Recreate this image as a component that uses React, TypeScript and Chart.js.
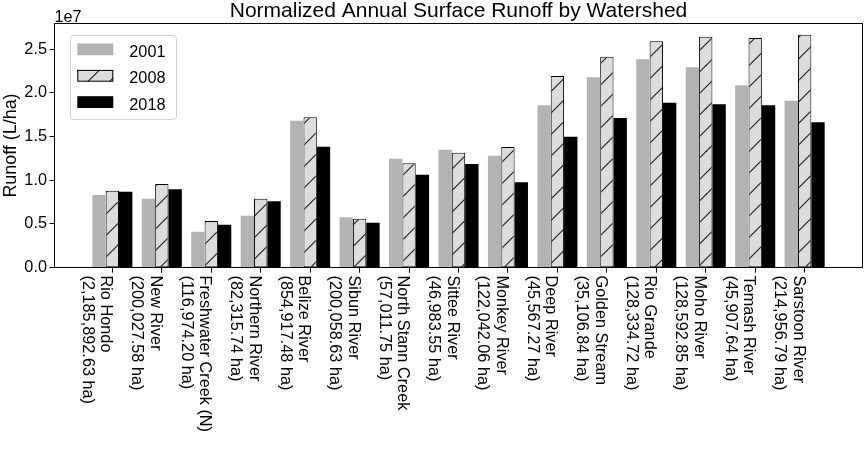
import React, { useEffect, useRef } from "react";
import { Chart, registerables } from "chart.js";

Chart.register(...registerables);

const FONT = '"Liberation Sans", Arial, Helvetica, sans-serif';

const watersheds = [
  "Rio Hondo",
  "New River",
  "Freshwater Creek (N)",
  "Northern River",
  "Belize River",
  "Sibun River",
  "North Stann Creek",
  "Sittee River",
  "Monkey River",
  "Deep River",
  "Golden Stream",
  "Rio Grande",
  "Moho River",
  "Temash River",
  "Sarstoon River",
];
const areas = [
  "(2,185,892.63 ha)",
  "(200,027.58 ha)",
  "(116,974.20 ha)",
  "(82,315.74 ha)",
  "(854,917.48 ha)",
  "(200,058.63 ha)",
  "(57,011.75 ha)",
  "(46,983.55 ha)",
  "(122,042.06 ha)",
  "(45,567.27 ha)",
  "(35,106.84 ha)",
  "(128,334.72 ha)",
  "(128,592.85 ha)",
  "(45,907.64 ha)",
  "(214,956.79 ha)",
];
const runoff2001 = [8.31e6, 7.89e6, 4.12e6, 5.94e6, 1.68e7, 5.76e6, 1.246e7, 1.349e7, 1.28e7, 1.856e7, 2.176e7, 2.382e7, 2.291e7, 2.085e7, 1.909e7];
const runoff2008 = [8.8e6, 9.57e6, 5.34e6, 7.89e6, 1.719e7, 5.6e6, 1.193e7, 1.315e7, 1.38e7, 2.191e7, 2.412e7, 2.588e7, 2.641e7, 2.626e7, 2.663e7];
const runoff2018 = [8.69e6, 8.96e6, 4.92e6, 7.59e6, 1.383e7, 5.14e6, 1.063e7, 1.185e7, 9.76e6, 1.497e7, 1.711e7, 1.886e7, 1.868e7, 1.856e7, 1.662e7];
const seriesLabels = ["2001", "2008", "2018"];
const yTicks = [0, 5e6, 1e7, 1.5e7, 2e7, 2.5e7];
const yTickLabels = ["0.0", "0.5", "1.0", "1.5", "2.0", "2.5"];
const titleText = "Normalized Annual Surface Runoff by Watershed";
const yTitle = "Runoff (L/ha)";
const offsetText = "1e7";

function makeHatch(): CanvasPattern | string {
  const size = 43;
  const c = document.createElement("canvas");
  c.width = size;
  c.height = size;
  const g = c.getContext("2d");
  if (!g) return "#dcdcdc";
  g.fillStyle = "#dcdcdc";
  g.fillRect(0, 0, size, size);
  g.strokeStyle = "#1a1a1a";
  g.lineWidth = 1.1;
  for (let k = 0; k <= 4; k++) {
    const cc = k * 21.5;
    g.beginPath();
    g.moveTo(cc + 3, -3);
    g.lineTo(-3, cc + 3);
    g.stroke();
  }
  const p = g.createPattern(c, "repeat");
  if (!p) return "#dcdcdc";
  try {
    p.setTransform(new DOMMatrix().translateSelf(19, 0));
  } catch (e) {}
  return p;
}

export default function App() {
  const ref = useRef<HTMLCanvasElement | null>(null);

  useEffect(() => {
    if (!ref.current) return;
    const hatch = makeHatch();
    const colors = ["#b3b3b3", hatch, "#000000"];

    const decor = {
      id: "decor",
      afterDraw(chart: any) {
        const ctx = chart.ctx as CanvasRenderingContext2D;
        const a = chart.chartArea;
        const xs = chart.scales.x;
        ctx.save();
        // frame
        ctx.strokeStyle = "#000";
        ctx.lineWidth = 1;
        const l = Math.floor(a.left) + 0.5;
        const t = Math.floor(a.top) + 0.5;
        const r = Math.floor(a.right) + 0.5;
        const b = Math.floor(a.bottom) + 0.5;
        ctx.strokeRect(l, t, r - l, b - t);

        // title
        ctx.fillStyle = "#000";
        ctx.font = `21px ${FONT}`;
        ctx.textAlign = "center";
        ctx.textBaseline = "alphabetic";
        ctx.fillText(titleText, (a.left + a.right) / 2, 17.3);

        // offset text
        ctx.font = `16.3px ${FONT}`;
        ctx.textAlign = "left";
        ctx.fillText(offsetText, a.left, 21.5);

        // x labels rotated clockwise
        ctx.font = `16.3px ${FONT}`;
        watersheds.forEach((name, i) => {
          const px = xs.getPixelForValue(i);
          ctx.save();
          ctx.translate(px, 275.5);
          ctx.rotate(Math.PI / 2);
          ctx.textAlign = "left";
          ctx.textBaseline = "alphabetic";
          ctx.fillText(name, 0, 10.9);
          ctx.fillText(areas[i], 0, 29.5);
          ctx.restore();
        });

        // legend
        const bx = 70.5, by = 35.5, bw = 106, bh = 84, rad = 3;
        ctx.beginPath();
        ctx.moveTo(bx + rad, by);
        ctx.lineTo(bx + bw - rad, by);
        ctx.arcTo(bx + bw, by, bx + bw, by + rad, rad);
        ctx.lineTo(bx + bw, by + bh - rad);
        ctx.arcTo(bx + bw, by + bh, bx + bw - rad, by + bh, rad);
        ctx.lineTo(bx + rad, by + bh);
        ctx.arcTo(bx, by + bh, bx, by + bh - rad, rad);
        ctx.lineTo(bx, by + rad);
        ctx.arcTo(bx, by, bx + rad, by, rad);
        ctx.closePath();
        ctx.fillStyle = "rgba(255,255,255,0.85)";
        ctx.fill();
        ctx.strokeStyle = "#d0d0d0";
        ctx.stroke();

        const baselines = [56.7, 83.2, 109.5];
        seriesLabels.forEach((lab, i) => {
          const yb = baselines[i];
          const py = yb - 13.3;
          ctx.fillStyle = colors[i] as any;
          ctx.fillRect(77.3, py, 36, 11.8);
          if (i === 1) {
            ctx.strokeStyle = "#000";
            ctx.lineWidth = 1;
            ctx.strokeRect(77.8, py + 0.5, 35, 10.8);
          }
          ctx.fillStyle = "#000";
          ctx.font = `16.3px ${FONT}`;
          ctx.textAlign = "left";
          ctx.textBaseline = "alphabetic";
          ctx.fillText(lab, 129.3, yb);
        });
        ctx.restore();
      },
    };

    const mk = (vals: number[]) => vals.map((v, i) => ({ x: i, y: v }));

    const chart = new Chart(ref.current, {
      type: "bar",
      data: {
        datasets: [
          {
            label: seriesLabels[0],
            data: mk(runoff2001),
            backgroundColor: colors[0] as any,
            borderWidth: 0,
          },
          {
            label: seriesLabels[1],
            data: mk(runoff2008),
            backgroundColor: colors[1] as any,
            borderColor: "#000",
            borderWidth: 1,
            borderSkipped: false,
          },
          {
            label: seriesLabels[2],
            data: mk(runoff2018),
            backgroundColor: colors[2] as any,
            borderWidth: 0,
          },
        ],
      },
      options: {
        animation: false,
        responsive: true,
        maintainAspectRatio: false,
        layout: { padding: { top: 23.3, right: 2.5, left: 0, bottom: 0 } },
        plugins: {
          legend: { display: false },
          title: { display: false },
          tooltip: { enabled: false },
        },
        datasets: {
          bar: { categoryPercentage: 0.81, barPercentage: 1.0 },
        },
        scales: {
          x: {
            type: "linear",
            min: -1.17,
            max: 15.17,
            offset: false,
            afterBuildTicks: (s: any) => {
              s.ticks = watersheds.map((_, i) => ({ value: i }));
            },
            ticks: { display: false },
            grid: {
              offset: false,
              drawOnChartArea: false,
              drawTicks: true,
              tickLength: 5,
              color: "#000",
              lineWidth: 1,
            },
            border: { display: false },
            afterFit: (s: any) => {
              s.height = 183.3;
            },
          },
          y: {
            type: "linear",
            min: 0,
            max: 2.794e7,
            afterBuildTicks: (s: any) => {
              s.ticks = yTicks.map((v) => ({ value: v }));
            },
            ticks: {
              callback: (v: any) => {
                const k = yTicks.indexOf(Number(v));
                return k >= 0 ? yTickLabels[k] : "";
              },
              font: { family: FONT, size: 16.3 },
              color: "#000",
              padding: 2.5,
            },
            grid: {
              drawOnChartArea: false,
              drawTicks: true,
              tickLength: 5,
              color: "#000",
              lineWidth: 1,
            },
            border: { display: false },
            title: {
              display: true,
              text: yTitle,
              font: { family: FONT, size: 17.9 },
              color: "#000",
              padding: 0,
            },
            afterFit: (s: any) => {
              s.width = 54.5;
            },
          },
        },
      } as any,
      plugins: [decor],
    });

    return () => chart.destroy();
  }, []);

  return (
    <div style={{ position: "fixed", left: 0, top: 0, width: 865, height: 451, background: "#fff" }}>
      <canvas ref={ref} />
    </div>
  );
}
